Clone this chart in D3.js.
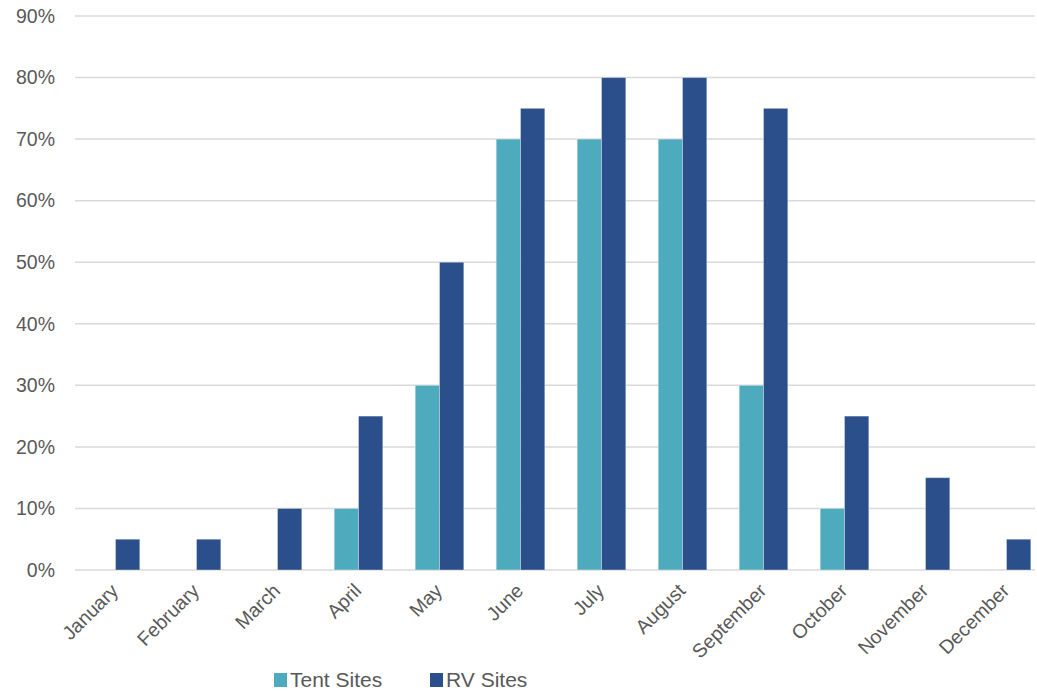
<!DOCTYPE html>
<html>
<head>
<meta charset="utf-8">
<script src="https://cdn.jsdelivr.net/npm/d3@7"></script>
<style>
  body { margin: 0; background: #fff; }
  #viz { width: 1037px; height: 691px; overflow: hidden; }
  text { font-family: "Liberation Sans", Arial, sans-serif; fill: #595959; }
</style>
</head>
<body>
<div id="viz"></div>
<script>
var months = ["January","February","March","April","May","June","July","August","September","October","November","December"];
var seriesNames = ["Tent Sites","RV Sites"];
var tentValues = [0, 0, 0, 0.10, 0.30, 0.70, 0.70, 0.70, 0.30, 0.10, 0, 0];
var rvValues = [0.05, 0.05, 0.10, 0.25, 0.50, 0.75, 0.80, 0.80, 0.75, 0.25, 0.15, 0.05];
var seriesColors = ["#4EABBD","#2B4F8B"];
var yTicks = [0,0.1,0.2,0.3,0.4,0.5,0.6,0.7,0.8,0.9];

var width = 1037, height = 691;
var margin = {top: 16, right: -10, bottom: 121, left: 75};

var svg = d3.select("#viz").append("svg")
    .attr("width", width)
    .attr("height", height);

var x0 = d3.scaleBand()
    .domain(months)
    .range([margin.left, width - margin.right])
    .paddingInner(0.4)
    .paddingOuter(0.2);

var x1 = d3.scaleBand()
    .domain(seriesNames)
    .range([0, x0.bandwidth()]);

var y = d3.scaleLinear()
    .domain([0, 0.9])
    .range([height - margin.bottom, margin.top]);

// gridlines
svg.append("g")
    .selectAll("line")
    .data(yTicks)
    .enter().append("line")
      .attr("x1", margin.left)
      .attr("x2", 1035)
      .attr("y1", d => y(d))
      .attr("y2", d => y(d))
      .attr("stroke", "#d9d9d9")
      .attr("stroke-width", 1.5);

// y labels
svg.append("g")
    .selectAll("text")
    .data(yTicks)
    .enter().append("text")
      .attr("x", 55)
      .attr("y", d => y(d))
      .attr("dy", "0.35em")
      .attr("text-anchor", "end")
      .style("font-size", "19.5px")
      .text(d => d3.format(".0%")(d));

var rows = months.map(function(m, i){
  return {month: m, values: [tentValues[i], rvValues[i]]};
});

var group = svg.append("g")
    .selectAll("g")
    .data(rows)
    .enter().append("g")
      .attr("transform", d => "translate(" + x0(d.month) + ",0)");

group.selectAll("rect")
    .data(d => d.values.map((v, k) => ({key: seriesNames[k], value: v, k: k})).filter(e => e.value > 0))
    .enter().append("rect")
      .attr("x", d => x1(d.key))
      .attr("y", d => y(d.value))
      .attr("width", x1.bandwidth())
      .attr("height", d => y(0) - y(d.value))
      .attr("fill", d => seriesColors[d.k])
      .attr("stroke", "rgba(255,255,255,0.35)")
      .attr("stroke-width", 1);

// month labels
svg.append("g")
    .selectAll("text")
    .data(months)
    .enter().append("text")
      .attr("transform", d => "translate(" + (x0(d) + x0.bandwidth() / 2 + 4) + "," + (y(0) + 22) + ") rotate(-45)")
      .attr("text-anchor", "end")
      .style("font-size", "19.5px")
      .text(d => d);

// legend
var legend = svg.append("g")
    .selectAll("g")
    .data(seriesNames)
    .enter().append("g")
      .attr("transform", (d, i) => "translate(" + (274 + i * 156) + ",673)");

legend.append("rect")
    .attr("width", 13)
    .attr("height", 14)
    .attr("fill", (d, i) => seriesColors[i]);

legend.append("text")
    .attr("x", 16)
    .attr("y", 14)
    .style("font-size", "21px")
    .text(d => d);
</script>
</body>
</html>
